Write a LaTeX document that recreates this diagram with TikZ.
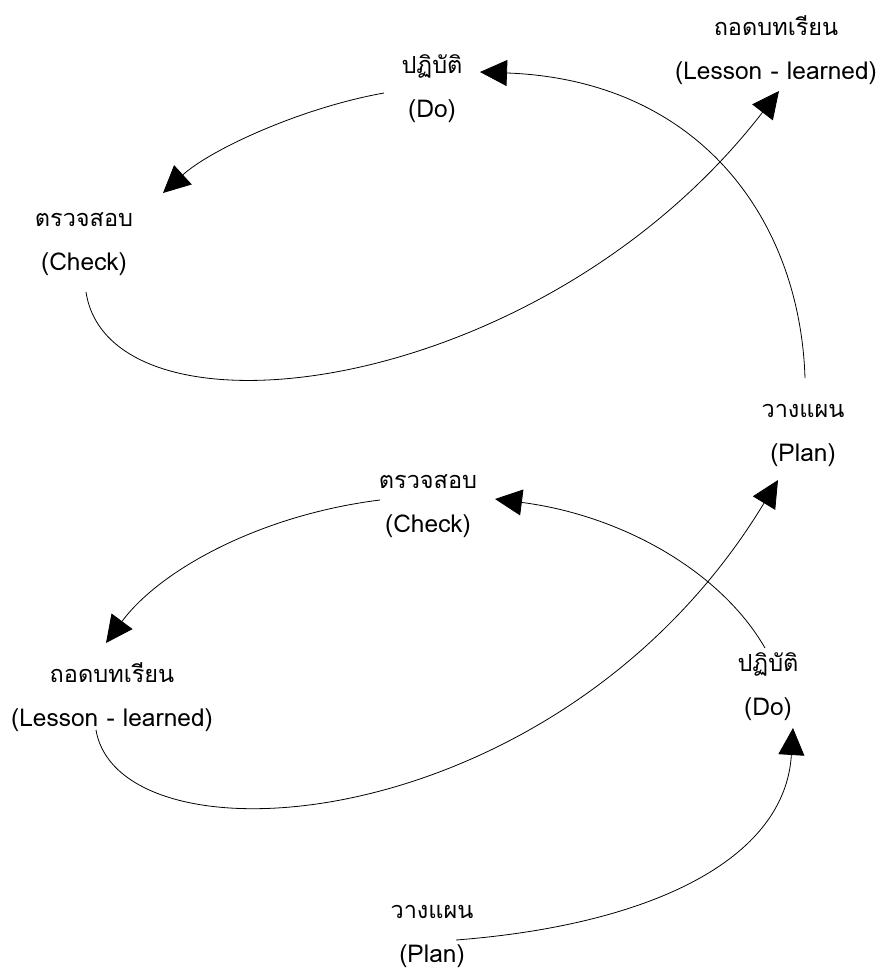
\documentclass[tikz,border=0pt]{standalone}
\usepackage{fontspec}
\newfontfamily\thaifont[Script=Thai]{Loma}
\usetikzlibrary{arrows.meta}
\newcommand{\latn}[1]{{\fontsize{24.5}{44}\selectfont #1}}
\tikzset{
  lbl/.style={align=center, inner sep=0pt, font=\thaifont\fontsize{23.5}{44}\selectfont},
  flow/.style={draw=black, line width=0.8pt, -{Triangle[length=27pt,width=26pt]}}
}
\begin{document}
\begin{tikzpicture}[x=1pt,y=-1pt]
\useasboundingbox (0,0) rectangle (883,975);
% top cycle
\node[lbl] (do1) at (432,89) {ปฏิบัติ\\\latn{(Do)}};
\node[lbl] (ll1) at (776,50) {ถอดบทเรียน\\\latn{(Lesson - learned)}};
\node[lbl] (ch1) at (84,244) {ตรวจสอบ\\\latn{(Check)}};
\node[lbl] (pl1) at (803,435) {วางแผน\\\latn{(Plan)}};
% bottom cycle
\node[lbl] (ch2) at (428,506) {ตรวจสอบ\\\latn{(Check)}};
\node[lbl] (ll2) at (112,697) {ถอดบทเรียน\\\latn{(Lesson - learned)}};
\node[lbl] (do2) at (768,687) {ปฏิบัติ\\\latn{(Do)}};
\node[lbl] (pl2) at (432,936) {วางแผน\\\latn{(Plan)}};
% connector end points
\coordinate (a1s) at (384,93);  \coordinate (a1e) at (163,193);
\coordinate (a2s) at (86,292);  \coordinate (a2e) at (779,91);
\coordinate (a3s) at (805,378); \coordinate (a3e) at (480,72);
\coordinate (a4s) at (456,940); \coordinate (a4e) at (793,728);
\coordinate (a5s) at (765,648); \coordinate (a5e) at (495,499);
\coordinate (a6s) at (380,500); \coordinate (a6e) at (106,643);
\coordinate (a7s) at (96,730);  \coordinate (a7e) at (778,480);
\draw[flow] (a1s) .. controls (300,108) and (210,150) .. (a1e);
\draw[flow] (a2s) .. controls (110,450) and (540,400) .. (a2e);
\draw[flow] (a3s) .. controls (800,220) and (700,80) .. (a3e);
\draw[flow] (a4s) .. controls (650,925) and (785,860) .. (a4e);
\draw[flow] (a5s) .. controls (720,570) and (620,515) .. (a5e);
\draw[flow] (a6s) .. controls (260,515) and (160,570) .. (a6e);
\draw[flow] (a7s) .. controls (120,870) and (560,840) .. (a7e);
\end{tikzpicture}
\end{document}
